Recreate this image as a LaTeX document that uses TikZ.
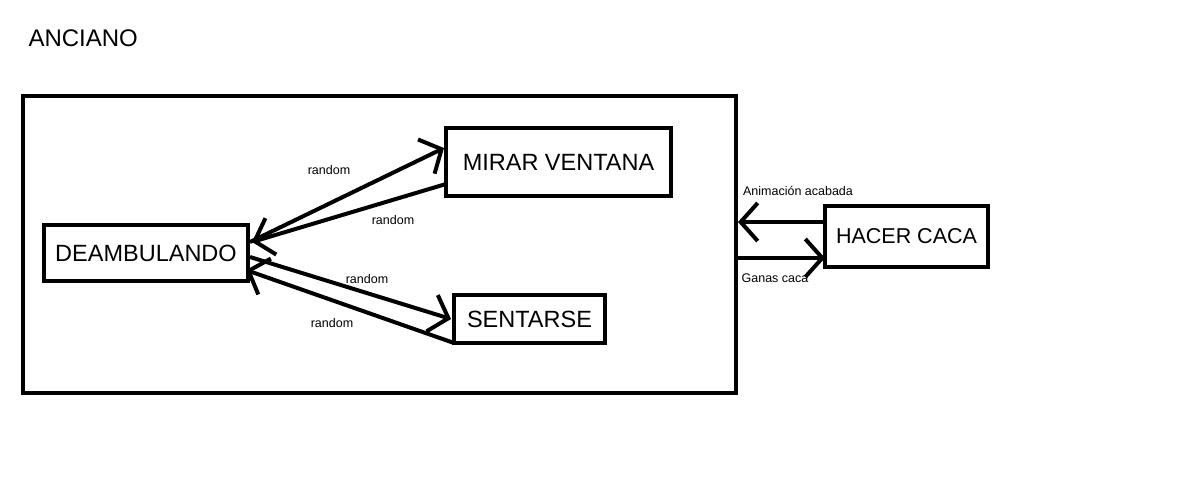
\documentclass[tikz,border=0pt]{standalone}
\usepackage{fontspec}
\setmainfont{Liberation Sans}
\usetikzlibrary{arrows.meta}
\tikzset{
  estado/.style={draw, line width=4pt, inner sep=0pt, outer sep=0pt, font=\fontsize{23.5}{23.5}\selectfont},
  flecha/.style={line width=4pt, -{Straight Barb[length=17pt, width=38pt, line width=4pt]}},
  etiqueta/.style={font=\fontsize{12.5}{13}\selectfont}
}
\begin{document}
\begin{tikzpicture}[x=1pt, y=-1pt]
  \useasboundingbox (0,0) rectangle (1192,493);
  % Title
  \node[anchor=west, font=\fontsize{24}{24}\selectfont] (titulo) at (25,38) {ANCIANO};
  % Boxes
  \node[draw, line width=4pt, inner sep=0pt, outer sep=0pt, minimum width=713, minimum height=297] (anciano) at (379.5,244.5) {};
  \node[estado, minimum width=225, minimum height=68] (mirar) at (558.5,162) {MIRAR VENTANA};
  \node[estado, minimum width=204, minimum height=56] (deamb) at (146,253) {DEAMBULANDO};
  \node[estado, minimum width=151, minimum height=48] (sentarse) at (529.5,319) {SENTARSE};
  \node[estado, minimum width=163, minimum height=61, font=\fontsize{21.5}{21.5}\selectfont] (hacer) at (906.5,236.5) {HACER CACA};
  % Arrows inside
  \draw[flecha] ([xshift=2pt, yshift=11pt]deamb.east) -- ([xshift=-2pt, yshift=14pt]mirar.west);
  \draw[flecha] ([yshift=-22pt]mirar.west) -- ([xshift=4pt, yshift=11pt]deamb.east);
  \draw[flecha] ([xshift=2pt, yshift=-4pt]deamb.east) -- ([xshift=-3pt]sentarse.west);
  \draw[flecha] (sentarse.south west) -- ([xshift=-2pt, yshift=-17pt]deamb.east);
  % Arrows outside
  \draw[flecha] ([yshift=14.5pt]hacer.west) -- ([xshift=2pt, yshift=22.5pt]anciano.east);
  \draw[flecha] ([xshift=2pt, yshift=-13.5pt]anciano.east) -- ([yshift=-21.5pt]hacer.west);
  % Labels
  \node[etiqueta] (r1) at (329,170) {random};
  \node[etiqueta] (r2) at (393,220) {random};
  \node[etiqueta] (r3) at (367,279) {random};
  \node[etiqueta] (r4) at (332,323) {random};
  \node[etiqueta] (anim) at (798,191) {Animación acabada};
  \node[etiqueta] (ganas) at (775,278) {Ganas caca};
\end{tikzpicture}
\end{document}
